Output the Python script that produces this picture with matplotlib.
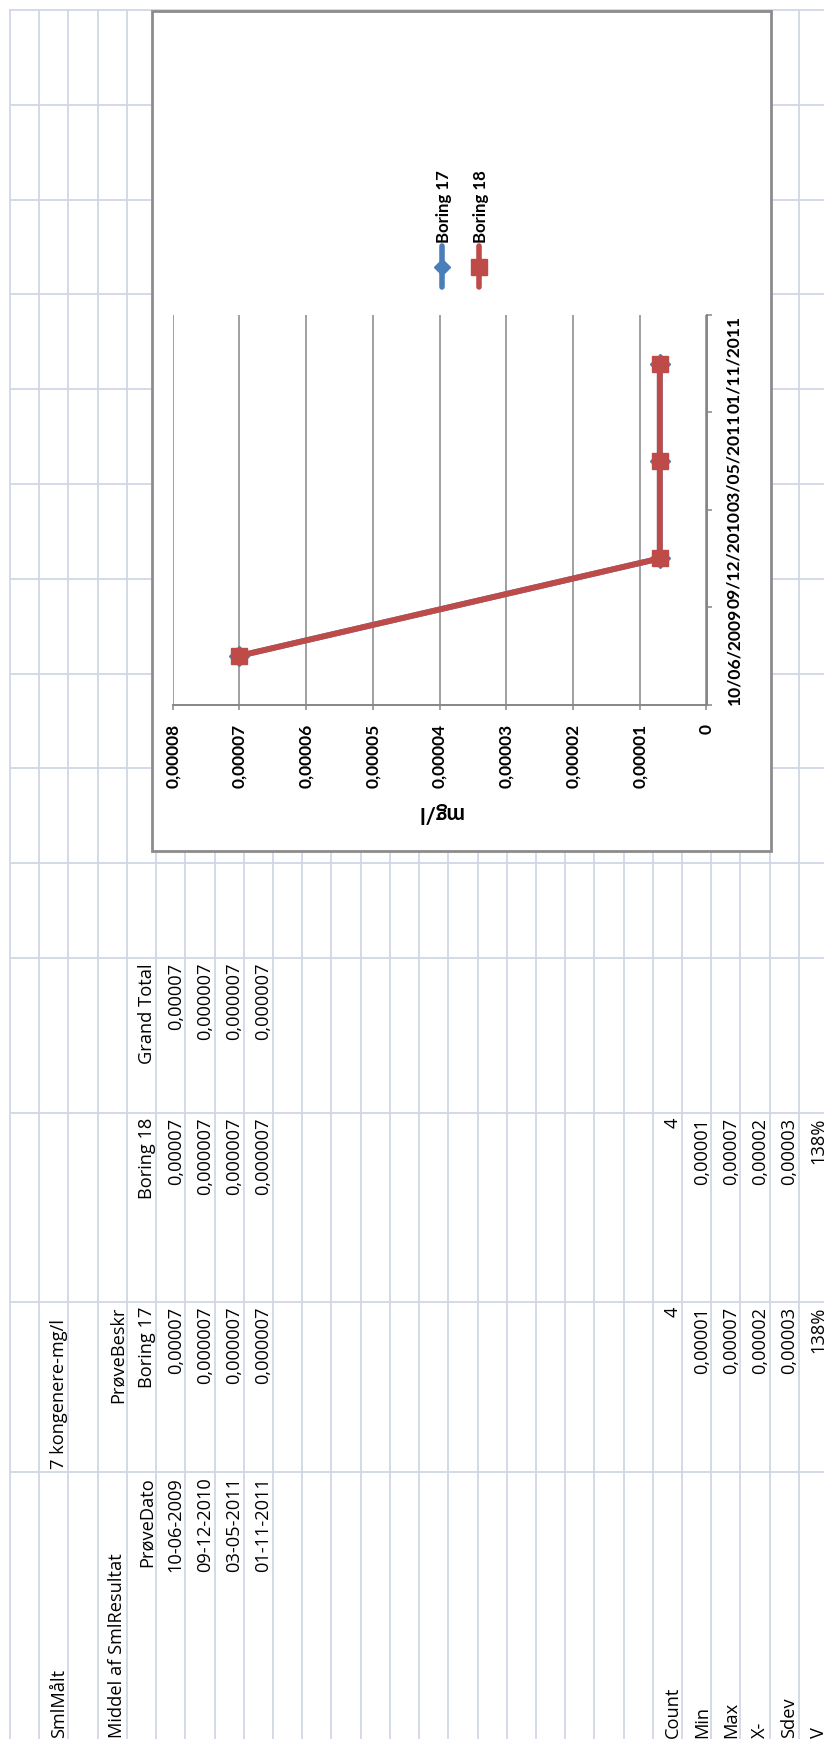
import matplotlib.pyplot as plt
from matplotlib.patches import Rectangle
from matplotlib.ticker import FuncFormatter

plt.close('all')
plt.rcParams['font.family'] = ['Lato', 'DejaVu Sans']
sheet_font = ['Open Sans', 'DejaVu Sans']

# pivot table content
date_cells = ["10-06-2009", "09-12-2010", "03-05-2011", "01-11-2011"]
date_labels = ["10/06/2009", "09/12/2010", "03/05/2011", "01/11/2011"]
series_names = ["Boring 17", "Boring 18"]
boring17 = [0.00007, 0.000007, 0.000007, 0.000007]
boring18 = [0.00007, 0.000007, 0.000007, 0.000007]
grand_total = [0.00007, 0.000007, 0.000007, 0.000007]
stat_names = ["Count", "Min", "Max", "X-", "Sdev", "V"]
stat_b17 = ["4", "0,00001", "0,00007", "0,00002", "0,00003", "138%"]
stat_b18 = ["4", "0,00001", "0,00007", "0,00002", "0,00003", "138%"]
value_ticks = [0, 0.00001, 0.00002, 0.00003, 0.00004, 0.00005, 0.00006, 0.00007, 0.00008]

blue = '#4A7EBB'
red = '#BE4B48'
axis_grey = '#868686'
grid_c = '#D0D7E5'


def fmt(v):
    s = ('%.6f' % v).rstrip('0').rstrip('.')
    return s.replace('.', ',')


fig = plt.figure(figsize=(8.24, 17.4), dpi=100)
renderer = fig.canvas.get_renderer()


# font size so that the strings take about the given width in pixels
def fit(texts, target, weight='normal', family=None):
    tot = 0
    for s in texts:
        t = fig.text(0, 0, s, fontsize=10, fontweight=weight, family=family)
        tot += t.get_window_extent(renderer).width
        t.remove()
    return 10 * target / tot


sheet_fs = fit(["0,00007", "Boring 17", "PrøveDato", "Grand Total"], 340, family=sheet_font)
tick_fs = fit(["0,00008"], 65, 'bold')
date_fs = fit(["10/06/2009"], 98, 'bold')
leg_fs = fit(["Boring 17"], 73, 'bold')
title_fs = fit(["mg/l"], 46, 'bold')

# sheet background, pixel coordinates of the (rotated) screenshot
bg = fig.add_axes([0, 0, 1, 1])
bg.set_xlim(0, 824)
bg.set_ylim(1740, 0)
bg.axis('off')

row_lines = [10 + 29.22 * k for k in range(29)]
col_lines = [1473, 1303, 1114, 959] + [959 - 94.8 * k for k in range(1, 11)]
bg.vlines(row_lines, 10, 1740, color=grid_c, lw=1.3, zorder=1)
bg.hlines(col_lines, 10, 824, color=grid_c, lw=1.3, zorder=1)

col_span = {'A': (1473, 1742), 'B': (1303, 1473), 'C': (1114, 1303), 'D': (959, 1114)}


def cell(row, col, txt, align='right'):
    top, bottom = col_span[col]
    x = row_lines[row] - 4.5
    if align == 'right':
        bg.text(x, top + 4, txt, rotation=90, rotation_mode='anchor', ha='right',
                va='baseline', fontsize=sheet_fs, family=sheet_font, zorder=1)
    else:
        bg.text(x, bottom - 4, txt, rotation=90, rotation_mode='anchor', ha='left',
                va='baseline', fontsize=sheet_fs, family=sheet_font, zorder=1)


cell(2, 'A', 'SmlMålt', 'left')
cell(2, 'B', '7 kongenere-mg/l', 'left')
cell(4, 'A', 'Middel af SmlResultat', 'left')
cell(4, 'B', 'PrøveBeskr')
cell(5, 'A', 'PrøveDato')
cell(5, 'B', series_names[0])
cell(5, 'C', series_names[1])
cell(5, 'D', 'Grand Total')
for i in range(len(date_cells)):
    cell(6 + i, 'A', date_cells[i])
    cell(6 + i, 'B', fmt(boring17[i]))
    cell(6 + i, 'C', fmt(boring18[i]))
    cell(6 + i, 'D', fmt(grand_total[i]))
for i in range(len(stat_names)):
    cell(23 + i, 'A', stat_names[i], 'left')
    cell(23 + i, 'B', stat_b17[i])
    cell(23 + i, 'C', stat_b18[i])

# chart box
bg.add_patch(Rectangle((152, 12), 771 - 152, 852 - 12, facecolor='white',
                       edgecolor='#8C8C8C', lw=2, zorder=2))

# legend (drawn by hand, rotated)
leg_x = [442, 479]
leg_col = [blue, red]
leg_mark = ['D', 's']
leg_ms = [8.5, 11]
for i in range(2):
    bg.plot([leg_x[i], leg_x[i]], [247, 288], color=leg_col[i], lw=4,
            solid_capstyle='round', zorder=3)
    bg.plot([leg_x[i]], [268], marker=leg_mark[i], ms=leg_ms[i], color=leg_col[i], zorder=3)
    bg.text(leg_x[i] + 7, 243, series_names[i], rotation=90, rotation_mode='anchor',
            ha='left', va='baseline', fontsize=leg_fs, fontweight='bold', zorder=3)

bg.text(440, 813, 'mg/l', rotation=180, ha='center', va='center', fontsize=title_fs,
        fontweight='bold', zorder=3)

# chart plot area
ax = fig.add_axes([172.7 / 824, 1 - 705.5 / 1740, (706.5 - 172.7) / 824, (705.5 - 316) / 1740])
ax.patch.set_visible(False)
idx = list(range(len(date_labels)))
ax.plot(boring17, idx, color=blue, lw=4.2, marker='D', ms=10, zorder=3)
ax.plot(boring18, idx, color=red, lw=4.2, marker='s', ms=11.5, zorder=4)

ax.set_xlim(0.00008, 0)
ax.set_ylim(-0.5, 3.5)
ax.set_xticks(value_ticks)
ax.xaxis.set_major_formatter(FuncFormatter(lambda v, p: fmt(v)))
ax.xaxis.grid(True, color=axis_grey, lw=1.1)
ax.set_axisbelow(True)

ax.yaxis.tick_right()
ax.set_yticks([-0.5, 0.5, 1.5, 2.5, 3.5])
ax.set_yticklabels([])
ax.set_yticks(idx, minor=True)
ax.set_yticklabels(date_labels, minor=True)

ax.tick_params(axis='x', length=3.5, width=1.1, color=axis_grey, pad=10,
               labelrotation=90, labelsize=tick_fs)
ax.tick_params(axis='y', which='major', length=3.5, width=1.1, color=axis_grey)
ax.tick_params(axis='y', which='minor', length=0, pad=14, labelrotation=90, labelsize=date_fs)
for lbl in ax.get_xticklabels():
    lbl.set_fontweight('bold')
for lbl in ax.get_yticklabels(minor=True):
    lbl.set_fontweight('bold')
    lbl.set_va('center')

for s in ['top', 'left']:
    ax.spines[s].set_visible(False)
for s in ['bottom', 'right']:
    ax.spines[s].set_color(axis_grey)
    ax.spines[s].set_linewidth(1.4)

fig.savefig('out.png', dpi=100)
